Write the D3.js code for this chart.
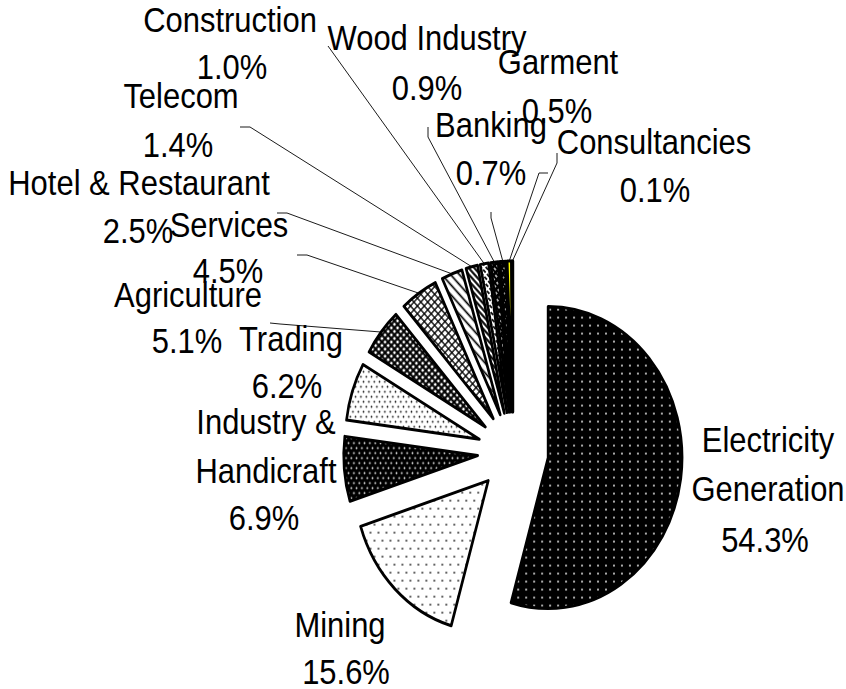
<!DOCTYPE html>
<html>
<head>
<meta charset="utf-8">
<script src="https://cdn.jsdelivr.net/npm/d3@7"></script>
<style>
  body { margin: 0; background: #fff; }
  text { font-family: "Liberation Sans", Arial, sans-serif; font-size: 36px; fill: #000; }
</style>
</head>
<body>
<div id="chart"></div>
<script>
// data
const sectors = ["Electricity Generation", "Mining", "Industry & Handicraft", "Trading", "Agriculture",
  "Services", "Hotel & Restaurant", "Telecom", "Construction", "Wood Industry", "Banking", "Garment", "Consultancies"];
const shares = [54.3, 15.6, 6.9, 6.2, 5.1, 4.5, 2.5, 1.4, 1.0, 0.9, 0.7, 0.5, 0.1];
// line breaks of the slice names
const nameLines = [["Electricity", "Generation"], ["Mining"], ["Industry &", "Handicraft"], ["Trading"], ["Agriculture"],
  ["Services"], ["Hotel & Restaurant"], ["Telecom"], ["Construction"], ["Wood Industry"], ["Banking"], ["Garment"], ["Consultancies"]];

// layout
const width = 846, height = 689;
const cx = 513, cy = 452;     // pie centre
const R = 151;                // radius
const sx = 0.887;             // the picture is squeezed horizontally
const explode = 40;
const textSx = 0.86;
const lineStep = 49;

// label anchors: first line centre/baseline, percent line, leader start points
const labelPos = [
  { x: 768, y: 452, px: 765, py: 552, lead: null },
  { x: 340, y: 637, px: 346, py: 684, lead: null },
  { x: 266, y: 434, px: 264, py: 530, lead: null },
  { x: 291, y: 351, px: 287, py: 398, lead: null },
  { x: 188, y: 307, px: 187, py: 353, lead: [[270, 323], [280, 324]] },
  { x: 229, y: 237, px: 228, py: 283, lead: [[297, 255], [307, 255]] },
  { x: 139, y: 195, px: 138, py: 243, lead: [[277, 213], [287, 213]] },
  { x: 181, y: 108, px: 178, py: 157, lead: [[240, 127], [250, 127]] },
  { x: 230, y: 32, px: 232, py: 79, lead: [[328, 46]] },
  { x: 427, y: 50, px: 427, py: 100, lead: [[428, 127], [428, 137]] },
  { x: 491, y: 137, px: 491, py: 185, lead: [[491, 212], [491, 218]] },
  { x: 558, y: 74, px: 557, py: 123, lead: [[548, 173], [539, 173]] },
  { x: 654, y: 154, px: 655, py: 202, lead: [[557, 153], [557, 163]] }
];

const fills = ["url(#pElec)", "url(#pMining)", "url(#pIndustry)", "url(#pTrading)", "url(#pAgri)",
  "url(#pServices)", "url(#pHotel)", "url(#pTelecom)", "url(#pConstr)", "url(#pWood)", "url(#pBank)",
  "#ffff00", "#000000"];

const svg = d3.select("#chart").append("svg")
  .attr("width", width)
  .attr("height", height);
svg.append("rect").attr("width", width).attr("height", height).attr("fill", "#fff");

const defs = svg.append("defs");

function dotPattern(id, bg, fg, w, h, r, stagger) {
  const p = defs.append("pattern").attr("id", id)
    .attr("patternUnits", "userSpaceOnUse")
    .attr("width", w).attr("height", h * 2);
  p.append("rect").attr("width", w).attr("height", h * 2).attr("fill", bg);
  p.append("circle").attr("cx", w / 4).attr("cy", h / 2).attr("r", r).attr("fill", fg);
  p.append("circle").attr("cx", stagger ? w * 3 / 4 : w / 4).attr("cy", h * 1.5).attr("r", r).attr("fill", fg);
}

function stripePattern(id, bg, fg, w, h, sw, angle, dash, cross) {
  const p = defs.append("pattern").attr("id", id)
    .attr("patternUnits", "userSpaceOnUse")
    .attr("width", w).attr("height", h)
    .attr("patternTransform", "rotate(" + angle + ")");
  p.append("rect").attr("width", w).attr("height", h).attr("fill", bg);
  p.append("line")
    .attr("x1", w / 2).attr("y1", 0).attr("x2", w / 2).attr("y2", h)
    .attr("stroke", fg).attr("stroke-width", sw)
    .attr("stroke-dasharray", dash);
  if (cross) {
    p.append("line")
      .attr("x1", 0).attr("y1", h / 2).attr("x2", w).attr("y2", h / 2)
      .attr("stroke", fg).attr("stroke-width", sw);
  }
}

dotPattern("pElec", "#000", "#fff", 9, 8, 1.0, false);
dotPattern("pMining", "#fff", "#000", 9, 8, 0.9, true);
dotPattern("pIndustry", "#000", "#fff", 6, 5, 0.95, true);
dotPattern("pTrading", "#fff", "#000", 6, 5, 0.9, true);
stripePattern("pAgri", "#fff", "#000", 5, 5, 2.3, 45, null, true);
stripePattern("pServices", "#fff", "#000", 5.5, 5.5, 1.4, 45, null, true);
stripePattern("pHotel", "#fff", "#000", 7, 7, 1.8, -45, null, false);
stripePattern("pTelecom", "#fff", "#000", 4.5, 4.5, 2.2, -45, null, false);
stripePattern("pConstr", "#fff", "#000", 4, 6, 1.8, -45, "4 2", false);
stripePattern("pWood", "#000", "#fff", 4, 6, 1.4, -45, "3 3", false);
stripePattern("pBank", "#000", "#fff", 3.5, 6, 1, -45, "2 4", false);

// pie
const pie = d3.pie().sort(null).value(d => d);
const arcs = pie(shares);
const arc = d3.arc().innerRadius(0).outerRadius(R);
const mid = d => (d.startAngle + d.endAngle) / 2;

const g = svg.append("g")
  .attr("transform", "translate(" + cx + "," + cy + ") scale(" + sx + ",1)");

g.selectAll("path.slice")
  .data(arcs)
  .join("path")
  .attr("class", "slice")
  .attr("transform", d => "translate(" + explode * Math.sin(mid(d)) + "," + (-explode * Math.cos(mid(d))) + ")")
  .attr("d", arc)
  .attr("fill", (d, i) => fills[i])
  .attr("stroke", "#000")
  .attr("stroke-width", 3)
  .attr("stroke-linejoin", "round");

// leader lines to the middle of each outer edge
const line = d3.line();
arcs.forEach((d, i) => {
  const lp = labelPos[i];
  if (!lp.lead) return;
  const a = mid(d);
  const end = [cx + sx * (R + explode) * Math.sin(a), cy - (R + explode) * Math.cos(a)];
  svg.append("path")
    .attr("d", line(lp.lead.concat([end])))
    .attr("fill", "none")
    .attr("stroke", "#000")
    .attr("stroke-width", 0.9);
});

// labels
const fmt = d3.format(".1f");
const labels = svg.append("g");
sectors.forEach((s, i) => {
  const lp = labelPos[i];
  nameLines[i].forEach((t, k) => {
    labels.append("text")
      .attr("text-anchor", "middle")
      .attr("transform", "translate(" + lp.x + "," + (lp.y + k * lineStep) + ") scale(" + textSx + ",1)")
      .text(t);
  });
  labels.append("text")
    .attr("text-anchor", "middle")
    .attr("transform", "translate(" + lp.px + "," + lp.py + ") scale(" + textSx + ",1)")
    .text(fmt(shares[i]) + "%");
});
</script>
</body>
</html>
